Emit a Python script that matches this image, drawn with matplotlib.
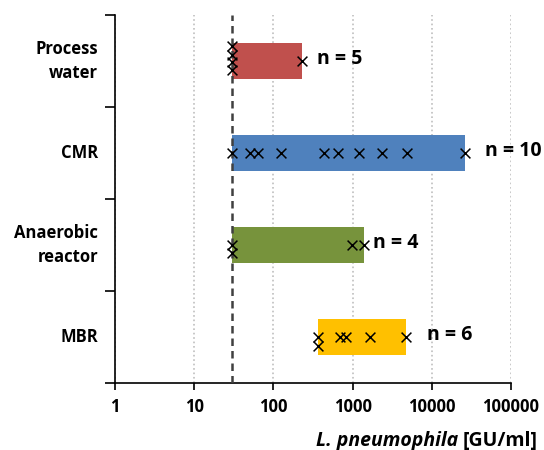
import numpy as np
import matplotlib
matplotlib.use('Agg')
import matplotlib.pyplot as plt
from matplotlib.ticker import FixedLocator, NullFormatter

plt.rcParams['font.family'] = ['Open Sans', 'DejaVu Sans']
plt.rcParams['font.weight'] = 'bold'

# data (GU/ml)
categories = ['Process\nwater', 'CMR', 'Anaerobic\nreactor', 'MBR']
colors = ['#C0504D', '#4F81BD', '#77933C', '#FFC000']
lod = 30

pw_vals = [30, 30, 30, 30, 230]
cmr_vals = [30, 51, 64, 125, 435, 655, 1200, 2350, 4850, 26000]
ana_vals = [30, 30, 980, 1390]
mbr_vals = [365, 365, 690, 830, 1650, 4700]
all_vals = [pw_vals, cmr_vals, ana_vals, mbr_vals]

# small vertical offsets used for the overlapping crosses
pw_jit = [-0.16, -0.07, 0.01, 0.10, 0.0]
cmr_jit = [0.0] * 10
ana_jit = [0.0, 0.09, 0.0, 0.0]
mbr_jit = [0.0, 0.10, 0.0, 0.0, 0.0, 0.0]
all_jit = [pw_jit, cmr_jit, ana_jit, mbr_jit]

n_offset = [15, 20, 9, 21]  # px gap between bar end and n label

fig = plt.figure(figsize=(5.44, 4.5), dpi=100)
ax = fig.add_axes([115/544, 1 - 383/450, 396/544, 368/450])

ypos = np.arange(len(categories))
for i in range(len(categories)):
    vals = np.array(all_vals[i])
    lo = max(lod, vals.min())
    hi = vals.max()
    ax.barh(ypos[i], hi - lo, left=lo, height=0.4, color=colors[i], zorder=2)
    ax.scatter(vals, ypos[i] + np.array(all_jit[i]), marker='x', s=50,
               color='black', linewidths=1.1, zorder=4)
    ax.annotate('n = %d' % len(vals), xy=(hi, ypos[i]), xytext=(n_offset[i] * 0.72, 1.5),
                textcoords='offset points', ha='left', va='center',
                fontsize=14, fontweight='bold')

ax.axvline(lod, color='#404040', linestyle=(0, (3, 2)), linewidth=1.8, zorder=3)

ax.set_xscale('log')
ax.set_xlim(1, 100000)
ax.set_ylim(3.5, -0.5)
ax.set_xticks([1, 10, 100, 1000, 10000, 100000])
ax.set_xticklabels(['1', '10', '100', '1000', '10000', '100000'])
ax.xaxis.set_minor_locator(FixedLocator([]))
ax.set_yticks(ypos)
ax.set_yticklabels(categories)
for lab in ax.get_yticklabels():
    lab.set_linespacing(1.5)
    lab.set_verticalalignment('center')
ax.yaxis.set_minor_locator(FixedLocator([-0.5, 0.5, 1.5, 2.5, 3.5]))
ax.yaxis.set_minor_formatter(NullFormatter())
ax.tick_params(axis='y', which='major', length=0, pad=12, labelsize=12)
ax.tick_params(axis='y', which='minor', length=7, width=1.2, direction='out')
ax.tick_params(axis='x', which='major', length=5, width=1.2, direction='out',
               labelsize=12, pad=6)

ax.grid(axis='x', which='major', color='#BFBFBF', linestyle=':', linewidth=1.2, zorder=0)
ax.set_axisbelow(True)
for s in ['top', 'right']:
    ax.spines[s].set_visible(False)
for s in ['left', 'bottom']:
    ax.spines[s].set_linewidth(1.2)

# x label: italic species name + plain unit, right aligned
unit = fig.text(538/544, 1 - 441/450, '[GU/ml]', ha='right', va='center',
                fontsize=14, fontweight='bold')
fig.canvas.draw()
bb = unit.get_window_extent()
fig.text(bb.x0 / fig.bbox.width, 1 - 441/450, 'L. pneumophila ', ha='right', va='center',
         fontsize=14, fontweight='bold', style='italic')

fig.savefig('out.png', dpi=100)
